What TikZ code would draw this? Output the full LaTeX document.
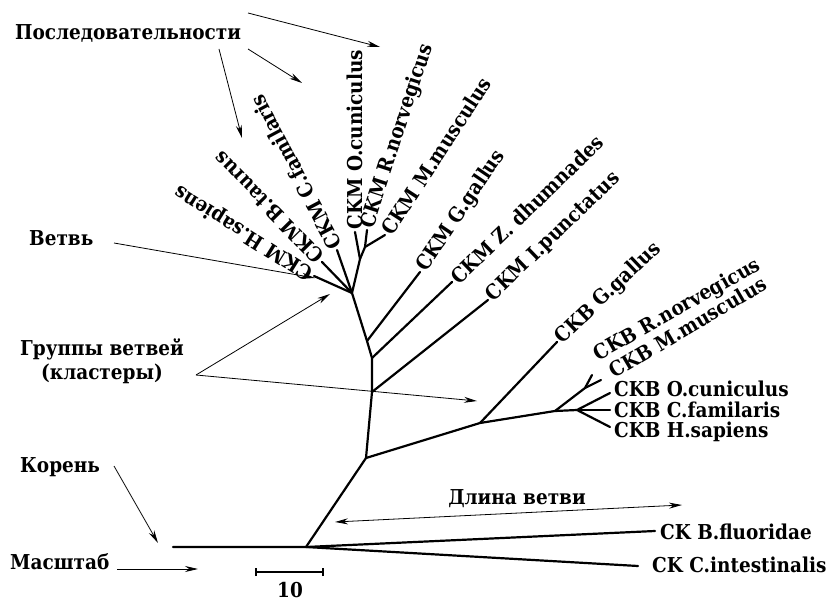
\documentclass[tikz,border=0pt]{standalone}
\usepackage{fontspec}
\setmainfont{DejaVu Serif Condensed}
\usetikzlibrary{arrows.meta}
\begin{document}
\begin{tikzpicture}[x=1pt,y=-1pt,
  br/.style={line width=2.2pt, line cap=round, line join=round},
  ar/.style={line width=0.8pt, -{Stealth[length=13pt,width=6pt]}},
  dar/.style={line width=0.8pt, {Stealth[length=13pt,width=6pt]}-{Stealth[length=13pt,width=6pt]}},
  lab/.style={font=\fontsize{20.5}{24}\selectfont\bfseries, inner sep=1pt},
  tiplab/.style={lab, anchor=west, inner sep=2.5pt}]
\useasboundingbox (0,0) rectangle (829,601);
% tree coordinates
\coordinate (L0) at (173,547);
\coordinate (R) at (306,547);
\coordinate (G) at (366,458);
\coordinate (F) at (372,392);
\coordinate (E) at (372,358);
\coordinate (D) at (367,341);
\coordinate (A) at (352,293);
\coordinate (B) at (360,259);
\coordinate (C) at (365,247);
\coordinate (tHs) at (314,276);
\coordinate (tBt) at (322,262);
\coordinate (tCf) at (337,250);
\coordinate (tOc) at (355,232);
\coordinate (tRn) at (367,230);
\coordinate (tMm) at (385,235);
\coordinate (tGg) at (420,272);
\coordinate (tZd) at (452,282);
\coordinate (tIp) at (488,300);
\coordinate (H) at (480,423);
\coordinate (tGgB) at (557,342);
\coordinate (I) at (555,411);
\coordinate (J) at (585,388);
\coordinate (tRnB) at (592,375);
\coordinate (tMmB) at (601,380);
\coordinate (K) at (577,410);
\coordinate (tOcB) at (610,393);
\coordinate (tCfB) at (610,410);
\coordinate (tHsB) at (610,427);
\coordinate (tBf) at (655,531);
\coordinate (tCi) at (638,566);
% branches
\draw[br] (L0) -- (R) -- (G) -- (F) -- (E) -- (D) -- (A) -- (B) -- (C) -- (tRn);
\draw[br] (B) -- (tOc);
\draw[br] (C) -- (tMm);
\draw[br] (A) -- (tHs);
\draw[br] (A) -- (tBt);
\draw[br] (A) -- (tCf);
\draw[br] (D) -- (tGg);
\draw[br] (E) -- (tZd);
\draw[br] (F) -- (tIp);
\draw[br] (G) -- (H) -- (I) -- (K);
\draw[br] (H) -- (tGgB);
\draw[br] (I) -- (J) -- (tMmB);
\draw[br] (J) -- (tRnB);
\draw[br] (K) -- (tOcB);
\draw[br] (K) -- (tCfB);
\draw[br] (K) -- (tHsB);
\draw[br] (R) -- (tBf);
\draw[br] (R) -- (tCi);
% leaf labels
\node[tiplab, rotate=148] (nHs) at (tHs) {CKM H.sapiens};
\node[tiplab, rotate=134.5] (nBt) at (tBt) {CKM B.taurus};
\node[tiplab, rotate=118] (nCf) at (tCf) {CKM C.familaris};
\node[tiplab, rotate=90] (nOc) at (tOc) {CKM O.cuniculus};
\node[tiplab, rotate=72] (nRn) at (tRn) {CKM R.norvegicus};
\node[tiplab, rotate=57] (nMm) at (tMm) {CKM M.musculus};
\node[tiplab, rotate=56] (nGg) at (tGg) {CKM G.gallus};
\node[tiplab, rotate=44] (nZd) at (tZd) {CKM Z. dhumnades};
\node[tiplab, rotate=44] (nIp) at (tIp) {CKM I.punctatus};
\node[tiplab, rotate=43.5] (nGgB) at (tGgB) {CKB G.gallus};
\node[lab, anchor=west, rotate=29.5] (nRnB) at (595,357) {CKB R.norvegicus};
\node[lab, anchor=west, rotate=30.5] (nMmB) at (610,373) {CKB M.musculus};
\node[lab, anchor=west] (nOcB) at (613,389) {CKB O.cuniculus};
\node[lab, anchor=west] (nCfB) at (613,410) {CKB C.familaris};
\node[lab, anchor=west] (nHsB) at (613,432) {CKB H.sapiens};
\node[lab, anchor=west] (nBf) at (659,532) {CK B.fluoridae};
\node[lab, anchor=west] (nCi) at (651,565) {CK C.intestinalis};
% annotation labels
\node[lab, anchor=west] (seq) at (14,33) {Последовательности};
\node[lab, anchor=west] (vet) at (28,238) {Ветвь};
\node[lab, align=center] (grp) at (102,361) {Группы ветвей\\(кластеры)};
\node[lab, anchor=west] (kor) at (19,467) {Корень};
\node[lab, anchor=west] (mas) at (9,562) {Масштаб};
\node[lab, anchor=base, inner sep=0pt] (ten) at (290,597) {10};
\node[lab] (dl) at (517,499) {Длина ветви};
% annotation arrows
\coordinate (s1) at (248,13); \coordinate (e1) at (380,47);
\coordinate (s2) at (248,49); \coordinate (e2) at (302,83);
\coordinate (s3) at (219,49); \coordinate (e3) at (242,138);
\draw[ar] (s1) -- (e1);
\draw[ar] (s2) -- (e2);
\draw[ar] (s3) -- (e3);
\coordinate (vs) at (114,243); \coordinate (ve) at (315,278);
\draw[ar] (vs) -- (ve);
\coordinate (gs) at (196,375); \coordinate (ge1) at (330,294); \coordinate (ge2) at (477,401);
\draw[ar] (gs) -- (ge1);
\draw[ar] (gs) -- (ge2);
\coordinate (ks) at (114,466); \coordinate (ke) at (158,543);
\draw[ar] (ks) -- (ke);
\coordinate (ms) at (117,569); \coordinate (me) at (198,569);
\draw[ar] (ms) -- (me);
\coordinate (ds) at (335,522); \coordinate (de) at (682,505);
\draw[dar] (ds) -- (de);
% scale bar
\coordinate (sb1) at (256,572); \coordinate (sb2) at (323,572);
\draw[line width=1.5pt] (sb1) -- (sb2);
\draw[line width=1.5pt] ([yshift=-4pt]sb1) -- ([yshift=4pt]sb1);
\draw[line width=1.5pt] ([yshift=-4pt]sb2) -- ([yshift=4pt]sb2);
\end{tikzpicture}
\end{document}
